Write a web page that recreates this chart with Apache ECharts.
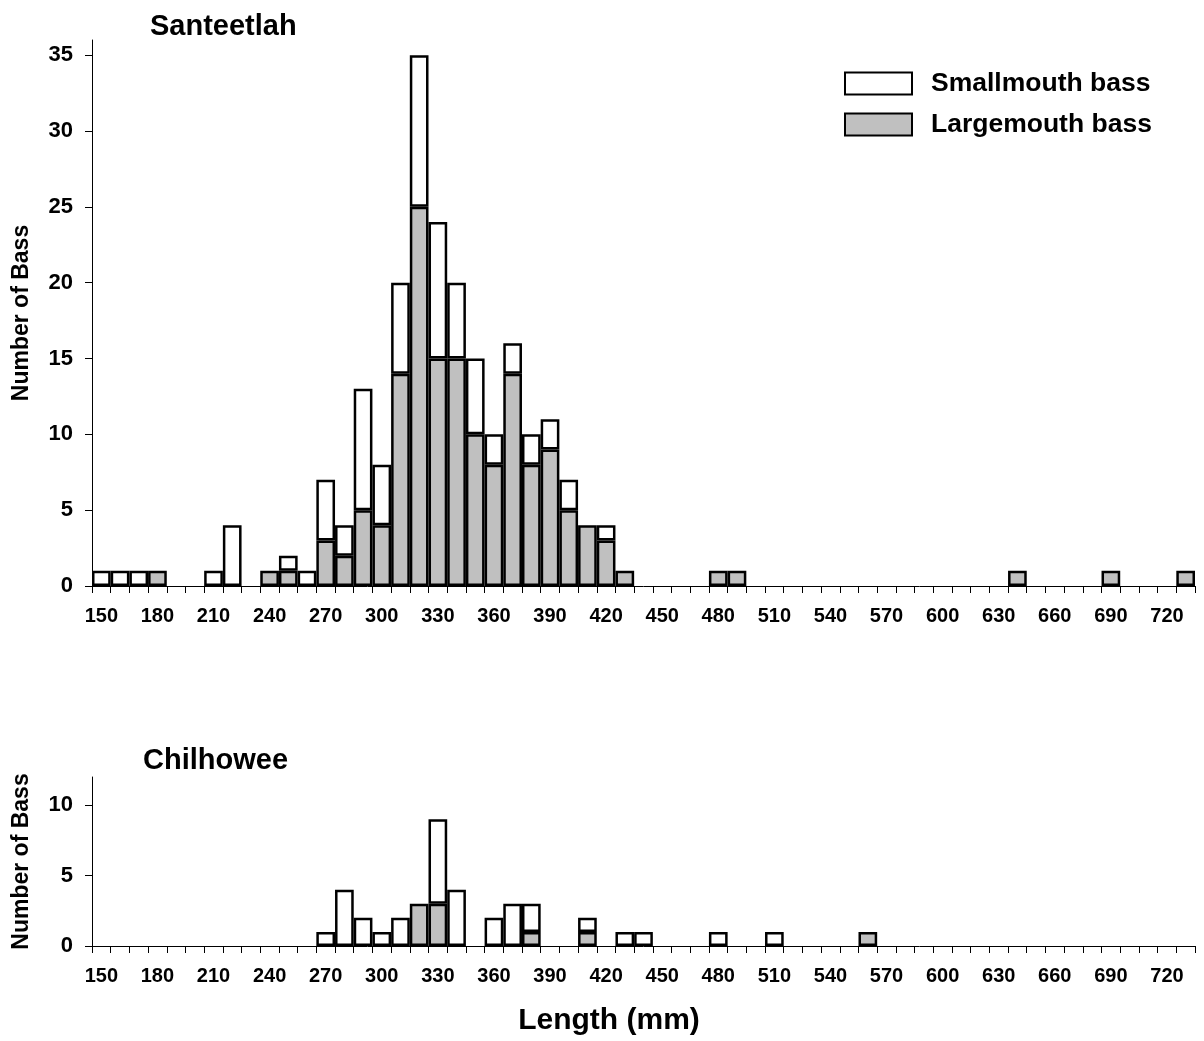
<!DOCTYPE html>
<html>
<head>
<meta charset="utf-8">
<script src="https://cdn.jsdelivr.net/npm/echarts@6/dist/echarts.min.js"></script>
<style>
  html, body { margin: 0; padding: 0; background: #fff; }
  #chart { width: 1204px; height: 1041px; }
</style>
</head>
<body>
<div id="chart"></div>
<script>
// Length classes (mm)
const categories = ['150','160','170','180','190','200','210','220','230','240',
  '250','260','270','280','290','300','310','320','330','340',
  '350','360','370','380','390','400','410','420','430','440',
  '450','460','470','480','490','500','510','520','530','540',
  '550','560','570','580','590','600','610','620','630','640',
  '650','660','670','680','690','700','710','720','730'];

// Santeetlah
const santeetlahLargemouth = [0,0,0,1,0,0,0,0,0,1,
  1,0,3,2,5,4,14,25,15,15,
  10,8,14,8,9,5,4,3,1,0,
  0,0,0,1,1,0,0,0,0,0,
  0,0,0,0,0,0,0,0,0,1,
  0,0,0,0,1,0,0,0,1];
const santeetlahSmallmouth = [1,1,1,0,0,0,1,4,0,0,
  1,1,4,2,8,4,6,10,9,5,
  5,2,2,2,2,2,0,1,0,0,
  0,0,0,0,0,0,0,0,0,0,
  0,0,0,0,0,0,0,0,0,0,
  0,0,0,0,0,0,0,0,0];

// Chilhowee
const chilhoweeLargemouth = [0,0,0,0,0,0,0,0,0,0,
  0,0,0,0,0,0,0,3,3,0,
  0,0,0,1,0,0,1,0,0,0,
  0,0,0,0,0,0,0,0,0,0,
  0,1,0,0,0,0,0,0,0,0,
  0,0,0,0,0,0,0,0,0];
const chilhoweeSmallmouth = [0,0,0,0,0,0,0,0,0,0,
  0,0,1,4,2,1,2,0,6,4,
  0,2,3,2,0,0,1,0,1,1,
  0,0,0,1,0,0,1,0,0,0,
  0,0,0,0,0,0,0,0,0,0,
  0,0,0,0,0,0,0,0,0];

const yTicksTop = [0,5,10,15,20,25,30,35];
const yTicksBottom = [0,5,10];

const FONT = "'Liberation Sans', Arial, sans-serif";
const GRAY = '#C0C0C0';
const BORDER = 2.5;

const nz = arr => arr.map(v => v === 0 ? null : v);

const chart = echarts.init(document.getElementById('chart'), null, { renderer: 'canvas' });

function xAxisCfg(gridIndex) {
  return {
    type: 'category',
    gridIndex: gridIndex,
    data: categories,
    boundaryGap: true,
    axisLine: { show: true, lineStyle: { color: '#000', width: 1 } },
    axisTick: { show: true, interval: 0, length: 7, lineStyle: { color: '#000', width: 1 } },
    axisLabel: { interval: 2, margin: 20, color: '#000', fontSize: 20, fontWeight: 'bold', fontFamily: FONT },
    splitLine: { show: false }
  };
}

function yAxisCfg(gridIndex, max, ticks) {
  return {
    type: 'value',
    gridIndex: gridIndex,
    min: 0,
    max: max,
    interval: 5,
    name: 'Number of Bass',
    nameLocation: 'middle',
    nameGap: 59,
    nameTextStyle: { color: '#000', fontSize: 23, fontWeight: 'bold', fontFamily: FONT },
    axisLine: { show: true, lineStyle: { color: '#000', width: 1 } },
    axisTick: { show: true, length: 7, customValues: ticks, lineStyle: { color: '#000', width: 1 } },
    axisLabel: { margin: 19, customValues: ticks, color: '#000', fontSize: 22, fontWeight: 'bold', fontFamily: FONT },
    splitLine: { show: false }
  };
}

function barSeries(name, data, axisIdx, stack, color) {
  return {
    name: name,
    type: 'bar',
    xAxisIndex: axisIdx,
    yAxisIndex: axisIdx,
    stack: stack,
    data: nz(data),
    barCategoryGap: '0%',
    barGap: '0%',
    itemStyle: { color: color, borderColor: '#000', borderWidth: BORDER },
    emphasis: { disabled: true },
    animation: false
  };
}

chart.setOption({
  backgroundColor: '#fff',
  animation: false,
  title: [
    { text: 'Santeetlah', left: 145, top: 7,
      textStyle: { color: '#000', fontSize: 29, fontWeight: 'bold', fontFamily: FONT } },
    { text: 'Chilhowee', left: 138, top: 741,
      textStyle: { color: '#000', fontSize: 29, fontWeight: 'bold', fontFamily: FONT } }
  ],
  legend: {
    orient: 'vertical',
    left: 839,
    top: 65,
    itemWidth: 67,
    itemHeight: 22,
    itemGap: 14,
    icon: 'rect',
    data: [
      { name: 'Smallmouth bass', itemStyle: { color: '#fff', borderColor: '#000', borderWidth: 2 } },
      { name: 'Largemouth bass', itemStyle: { color: GRAY, borderColor: '#000', borderWidth: 2 } }
    ],
    textStyle: { color: '#000', fontSize: 26.5, fontWeight: 'bold', fontFamily: FONT, padding: [0, 0, 0, 14] },
    selectedMode: false
  },
  graphic: [
    { type: 'text', x: 609, y: 1021,
      style: { text: 'Length (mm)', fill: '#000', fontSize: 30, fontWeight: 'bold', fontFamily: FONT,
               textAlign: 'center', textVerticalAlign: 'middle' } }
  ],
  grid: [
    { left: 92, right: 9, top: 40, height: 546 },
    { left: 92, right: 9, top: 777, height: 169 }
  ],
  xAxis: [xAxisCfg(0), xAxisCfg(1)],
  yAxis: [yAxisCfg(0, 36, yTicksTop), yAxisCfg(1, 12, yTicksBottom)],
  series: [
    barSeries('Largemouth bass', santeetlahLargemouth, 0, 'top', GRAY),
    barSeries('Smallmouth bass', santeetlahSmallmouth, 0, 'top', '#fff'),
    barSeries('Largemouth bass', chilhoweeLargemouth, 1, 'bottom', GRAY),
    barSeries('Smallmouth bass', chilhoweeSmallmouth, 1, 'bottom', '#fff')
  ]
});
</script>
</body>
</html>
